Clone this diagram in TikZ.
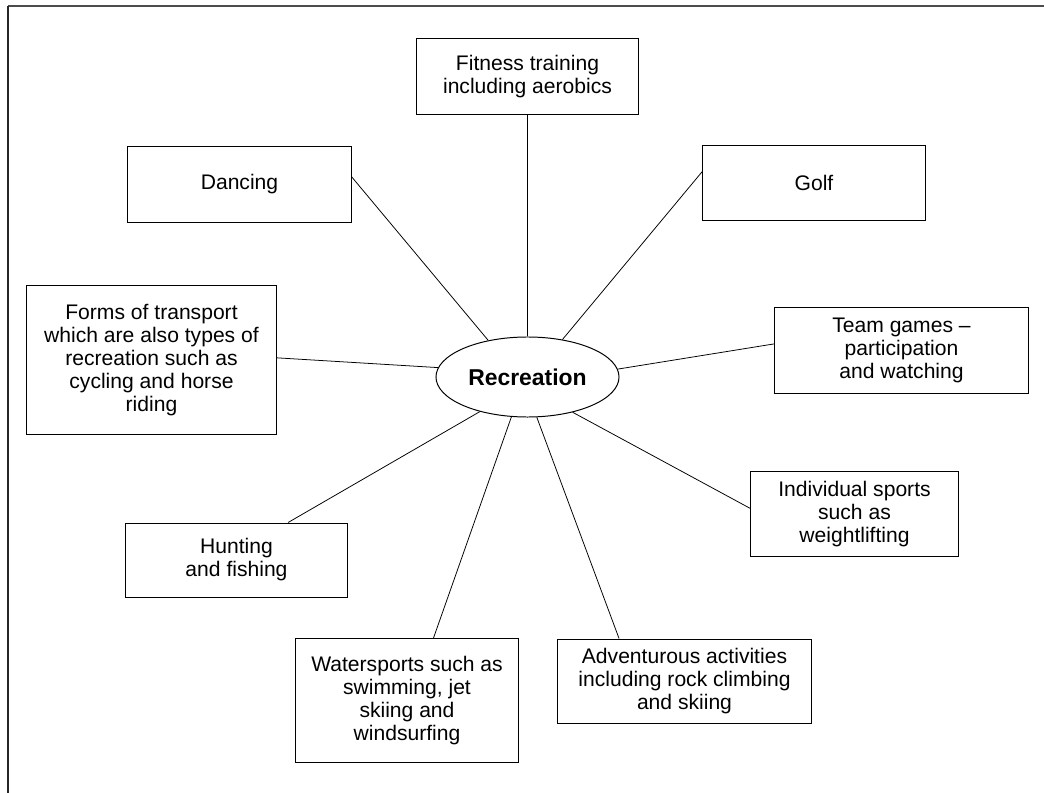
\documentclass[tikz,border=0pt]{standalone}
\usepackage{fontspec}
\setmainfont{Liberation Sans}
\usetikzlibrary{shapes.geometric}
\tikzset{
  topic/.style={draw, rectangle, line width=0.7pt, align=center,
                inner sep=2pt, font=\fontsize{15}{16.4}\selectfont},
  hub/.style={draw, ellipse, line width=0.7pt, inner sep=0pt,
              minimum width=4.575cm, minimum height=2cm,
              font=\fontsize{16.3}{18}\selectfont\bfseries},
  link/.style={line width=0.55pt},
}

\begin{document}
\begin{tikzpicture}[x=0.025cm, y=-0.025cm]
  \useasboundingbox (0,0) rectangle (1044,793);
  \draw[line width=1.4pt, black!70] (8,6) -- (1044,6);
  \draw[line width=0.9pt, black!85] (8,6) -- (8,793);
  \node[hub] (rec) at (527.5,377) {Recreation};
  \node[topic, minimum width=5.55cm,  minimum height=1.875cm] (fit)   at (527.5,76.5) {Fitness training\\ including aerobics};
  \node[topic, minimum width=5.575cm, minimum height=1.875cm] (dance) at (239.5,184.5) {Dancing};
  \node[topic, minimum width=5.55cm,  minimum height=1.85cm]  (golf)  at (814,183)    {Golf};
  \node[topic, minimum width=6.225cm, minimum height=3.7cm]   (trans) at (151.5,360)  {Forms of transport\\ which are also types of\\ recreation such as\\ cycling and horse\\ riding};
  \node[topic, minimum width=6.325cm, minimum height=2.125cm] (team)  at (901.5,350.5) {Team games \textendash\\ participation\\ and watching};
  \node[topic, minimum width=5.175cm, minimum height=2.1cm]   (indiv) at (854.5,514)  {Individual sports\\ such as\\ weightlifting};
  \node[topic, minimum width=5.525cm, minimum height=1.85cm]  (hunt)  at (236.5,560)  {Hunting\\ and fishing};
  \node[topic, minimum width=5.55cm,  minimum height=3.075cm] (water) at (407,700.5)  {Watersports such as\\ swimming, jet\\ skiing and\\ windsurfing};
  \node[topic, minimum width=6.325cm, minimum height=2.1cm]   (adv)   at (684.5,681)  {Adventurous activities\\ including rock climbing\\ and skiing};
  \draw[link] (fit.south)   -- (rec.north);
  \draw[link] (dance.4.9)   -- (rec.137);
  \draw[link] (golf.174.9)  -- (rec.47);
  \draw[link] (trans.1.4)   -- (rec.174.4);
  \draw[link] (team.177.5)  -- (rec.5.9);
  \draw[link] (indiv.177.8) -- (rec.322.5);
  \draw[link] (hunt.36.5)   -- (rec.216);
  \draw[link] (water.67.1)  -- (rec.248.6);
  \draw[link] (adv.147.3)   -- (rec.283.4);
\end{tikzpicture}
\end{document}
